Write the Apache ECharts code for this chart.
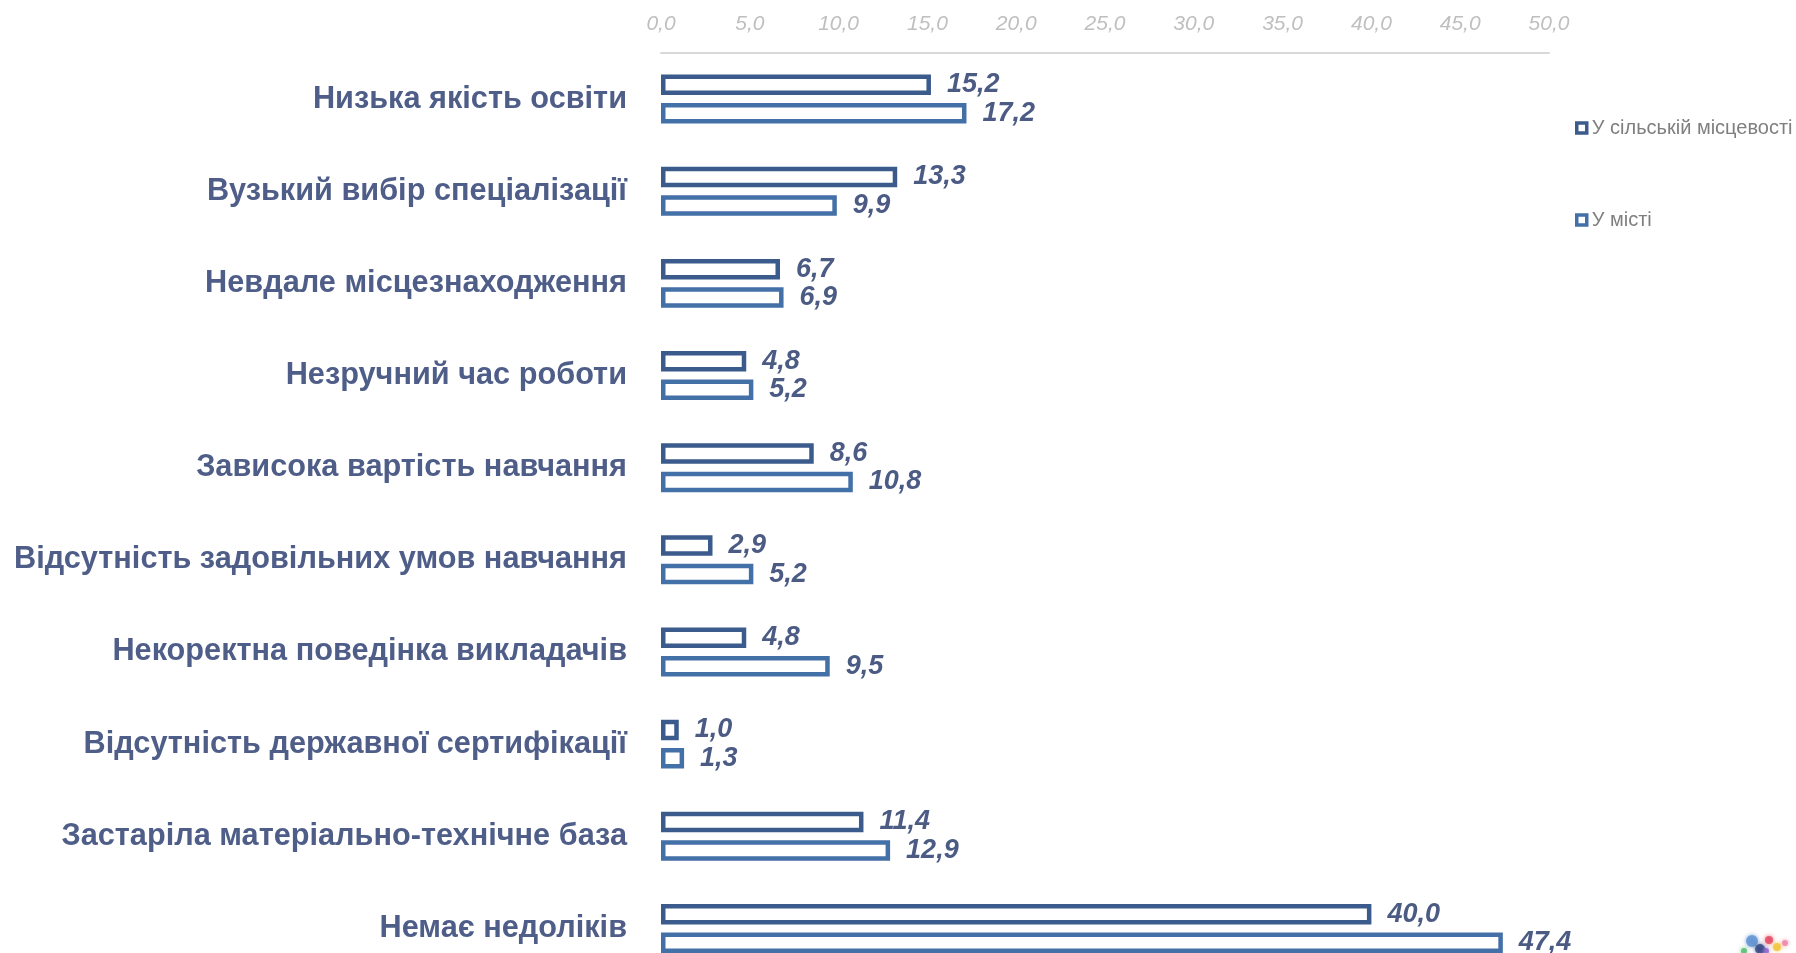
<!DOCTYPE html>
<html>
<head>
<meta charset="utf-8">
<script src="https://cdn.jsdelivr.net/npm/echarts@6/dist/echarts.min.js"></script>
<style>
  html, body { margin: 0; padding: 0; background: #ffffff; }
  #chart { width: 1796px; height: 953px; }
</style>
</head>
<body>
<div id="chart"></div>
<script>
// Reasons given for dissatisfaction with education, % of respondents
const categories = [
  'Низька якість освіти',
  'Вузький вибір спеціалізації',
  'Невдале місцезнаходження',
  'Незручний час роботи',
  'Зависока вартість навчання',
  'Відсутність задовільних умов навчання',
  'Некоректна поведінка викладачів',
  'Відсутність державної сертифікації',
  'Застаріла матеріально-технічне база',
  'Немає недоліків'
];
const seriesNames = ['У сільській місцевості', 'У місті'];
const ruralValues = [15.2, 13.3, 6.7, 4.8, 8.6, 2.9, 4.8, 1.0, 11.4, 40.0];
const cityValues = [17.2, 9.9, 6.9, 5.2, 10.8, 5.2, 9.5, 1.3, 12.9, 47.4];
const axisMin = 0, axisMax = 50, axisStep = 5;

const font = '"Liberation Sans", Arial, sans-serif';
const fmt = v => Number(v).toFixed(1).replace('.', ',');

function barSeries(name, values, stroke) {
  return {
    name: name,
    type: 'bar',
    data: values,
    barWidth: 20.5,
    barGap: '39%',
    itemStyle: { color: '#ffffff', borderColor: stroke, borderWidth: 4.5 },
    label: {
      show: true,
      position: 'right',
      distance: 16,
      formatter: p => fmt(p.value),
      fontFamily: font,
      fontSize: 27,
      fontWeight: 'bold',
      fontStyle: 'italic',
      color: '#4b5b84'
    },
    emphasis: { disabled: true }
  };
}

// small multicoloured emblem fragment in the lower right corner
const emblemDots = [
  { cx: 1752, cy: 941, r: 6, fill: '#5b8fd0' },
  { cx: 1760, cy: 949, r: 5, fill: '#2b3f7c' },
  { cx: 1769, cy: 940, r: 4, fill: '#e2405a' },
  { cx: 1777, cy: 947, r: 4, fill: '#f1c232' },
  { cx: 1785, cy: 943, r: 3, fill: '#f07aa0' },
  { cx: 1744, cy: 951, r: 3, fill: '#4cb86a' },
  { cx: 1766, cy: 951, r: 3, fill: '#8a5cc8' }
];

const chart = echarts.init(document.getElementById('chart'));
chart.setOption({
  animation: false,
  backgroundColor: '#ffffff',
  grid: { left: 661, width: 888, top: 53, height: 921.5, outerBoundsMode: 'none', containLabel: false },
  legend: {
    orient: 'vertical',
    left: 1575,
    top: 118,
    padding: 0,
    icon: 'rect',
    itemWidth: 10,
    itemHeight: 10,
    itemGap: 72,
    selectedMode: false,
    itemStyle: { borderWidth: 3.5 },
    textStyle: { fontFamily: font, fontSize: 20, color: '#7f7f7f' },
    data: seriesNames
  },
  xAxis: {
    type: 'value',
    position: 'top',
    min: axisMin,
    max: axisMax,
    interval: axisStep,
    axisLine: { show: true, lineStyle: { color: '#d9d9d9', width: 2 } },
    axisTick: { show: false },
    splitLine: { show: false },
    axisLabel: {
      formatter: v => fmt(v),
      margin: 18,
      fontFamily: font,
      fontSize: 21,
      fontStyle: 'italic',
      color: '#bfbfbf'
    }
  },
  yAxis: {
    type: 'category',
    data: categories,
    inverse: true,
    axisLine: { show: false },
    axisTick: { show: false },
    axisLabel: {
      margin: 34,
      fontFamily: font,
      fontSize: 30.7,
      fontWeight: 'bold',
      color: '#4f5e88'
    }
  },
  graphic: emblemDots.map(d => ({
    type: 'circle',
    silent: true,
    shape: { cx: d.cx, cy: d.cy, r: d.r },
    style: { fill: d.fill, opacity: 0.75, shadowBlur: 4, shadowColor: d.fill }
  })),
  series: [
    barSeries(seriesNames[0], ruralValues, '#3b5b8c'),
    barSeries(seriesNames[1], cityValues, '#4470a8')
  ]
});
</script>
</body>
</html>
